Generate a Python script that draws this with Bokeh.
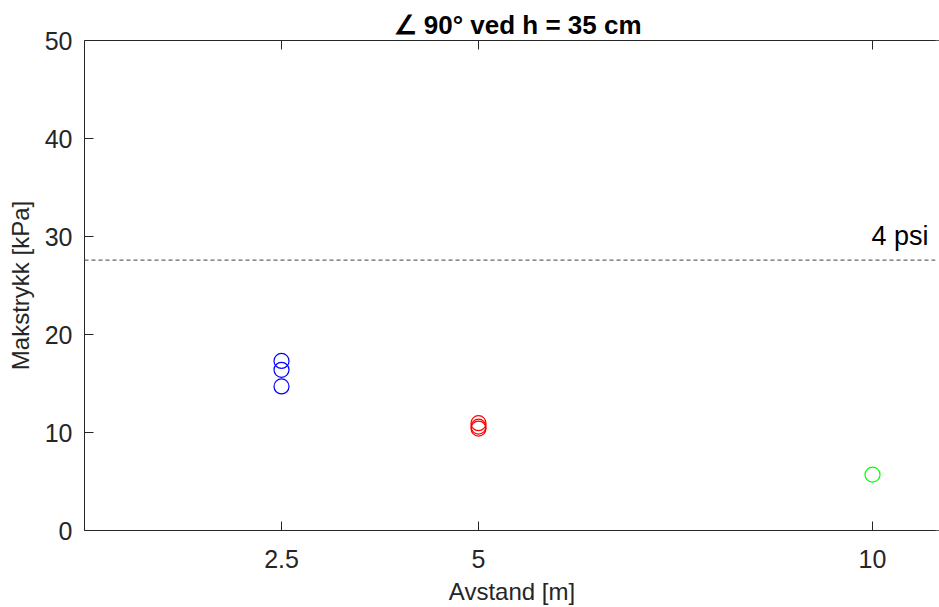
from bokeh.plotting import figure
from bokeh.models import Span, Label, LinearAxis, FixedTicker, Range1d
from bokeh.embed import file_html
from bokeh.resources import INLINE

x_blue = [2.5, 2.5, 2.5]
y_blue = [17.3, 16.4, 14.7]
x_red = [5, 5, 5]
y_red = [10.95, 10.6, 10.4]
x_green = [10]
y_green = [5.7]
psi4_kpa = 27.58
x_ticks = [2.5, 5, 10]
y_ticks = [0, 10, 20, 30, 40, 50]
x_end = 10.85

FONT = "Liberation Sans"
AX = "#262626"

p = figure(width=939, height=607, output_backend="svg", toolbar_location=None,
           x_range=Range1d(0, x_end), y_range=Range1d(0, 50),
           min_border_left=84, min_border_right=0, min_border_top=40, min_border_bottom=76,
           title="\u2220 90\u00b0 ved h = 35 cm")
p.outline_line_color = None
p.outline_line_alpha = 0
p.xgrid.visible = False
p.ygrid.visible = False

p.title.text_font = FONT
p.title.text_font_size = "26px"
p.title.text_font_style = "bold"
p.title.text_color = "#000000"
p.title.align = "left"
p.title.offset = 309
p.title.standoff = 2

for ax in (p.xaxis[0], p.yaxis[0]):
    ax.axis_line_color = AX
    ax.major_tick_line_color = AX
    ax.major_tick_in = 9
    ax.major_tick_out = 0
    ax.minor_tick_line_color = None
    ax.major_label_text_font = FONT
    ax.major_label_text_font_size = "25px"
    ax.major_label_text_color = AX
    ax.axis_label_text_font = FONT
    ax.axis_label_text_font_size = "24px"
    ax.axis_label_text_font_style = "normal"
    ax.axis_label_text_color = AX

p.xaxis[0].ticker = FixedTicker(ticks=x_ticks)
p.xaxis[0].major_label_overrides = {2.5: "2.5", 5: "5", 10: "10"}
p.xaxis[0].major_label_standoff = 19
p.xaxis[0].axis_label = "Avstand [m]"
p.xaxis[0].axis_label_standoff = 7
p.yaxis[0].ticker = FixedTicker(ticks=y_ticks)
p.yaxis[0].major_label_standoff = 12
p.yaxis[0].axis_label = "Makstrykk [kPa]"
p.yaxis[0].axis_label_standoff = 8

top = LinearAxis(ticker=FixedTicker(ticks=x_ticks), axis_line_color=AX,
                 major_tick_line_color=AX, major_tick_in=9, major_tick_out=0,
                 minor_tick_line_color=None, major_label_text_alpha=0,
                 major_label_text_font_size="1px", major_label_standoff=0)
p.add_layout(top, "above")

p.add_layout(Span(location=psi4_kpa, dimension="width", line_color="#666666",
                  line_dash="4 3", line_width=1.2))
p.add_layout(Label(x=10.71, y=psi4_kpa, y_offset=9, text="4 psi", text_align="right",
                   text_baseline="bottom", text_font=FONT, text_font_size="27px",
                   text_color="#000000"))

p.scatter(x_blue, y_blue, marker="circle", size=15, fill_color=None,
          line_color="#0000FF", line_width=1.2)
p.scatter(x_red, y_red, marker="circle", size=15, fill_color=None,
          line_color="#FF0000", line_width=1.2)
p.scatter(x_green, y_green, marker="circle", size=15, fill_color=None,
          line_color="#00FF00", line_width=1.2)

# hide the right frame edge (the reference box is cut off at the window edge)
p.add_layout(Span(location=x_end, dimension="height", line_color="white", line_width=8))

open("out.html", "w").write(file_html(p, INLINE))
